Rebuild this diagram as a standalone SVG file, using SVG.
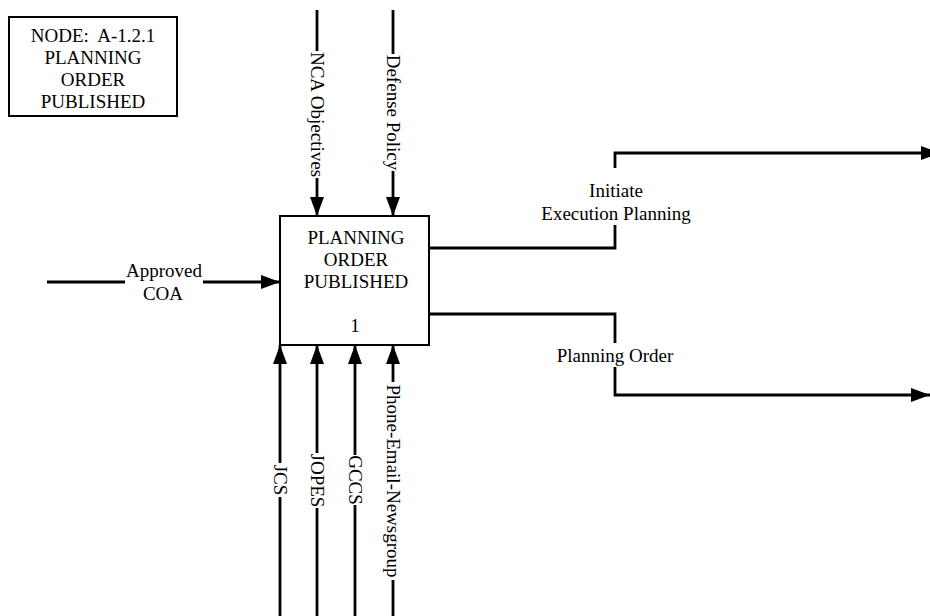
<svg xmlns="http://www.w3.org/2000/svg" width="930" height="616" viewBox="0 0 930 616">
<style>
text{font-family:"Liberation Serif","Times New Roman",serif;font-size:19px;fill:#000;text-anchor:middle;white-space:pre}
.box{fill:#fff;stroke:#000;stroke-width:2}
.c{fill:none;stroke:#000;stroke-width:2.8}
</style>
<defs>
<marker id="ah" markerUnits="userSpaceOnUse" markerWidth="20" markerHeight="14" refX="19" refY="7" orient="auto">
<path d="M0,0 L19,7 L0,14 z" fill="#000"/>
</marker>
</defs>
<rect width="930" height="616" fill="#fff"/>
<g id="node-label">
<rect class="box" x="9" y="17" width="168" height="99" stroke-width="1.5"/>
<text x="93" y="42">NODE:  A-1.2.1</text>
<text x="93" y="64">PLANNING</text>
<text x="93" y="86">ORDER</text>
<text x="93" y="108">PUBLISHED</text>
</g>
<g id="node-1">
<rect class="box" x="280" y="216" width="149" height="129"/>
<text x="356" y="244">PLANNING</text>
<text x="356" y="266">ORDER</text>
<text x="356" y="288">PUBLISHED</text>
<text x="355" y="332">1</text>
</g>
<g id="connectors">
<!-- NCA Objectives -->
<path class="c" d="M317,10 V51"/>
<path class="c" d="M317,178 V216" marker-end="url(#ah)"/>
<text transform="translate(317,114.5) rotate(90)" x="0" y="6">NCA Objectives</text>
<!-- Defense Policy -->
<path class="c" d="M393,10 V54"/>
<path class="c" d="M393,171 V216" marker-end="url(#ah)"/>
<text transform="translate(393,112.5) rotate(90)" x="0" y="6">Defense Policy</text>
<!-- Approved COA -->
<path class="c" d="M47,282 H125"/>
<path class="c" d="M203,282 H280" marker-end="url(#ah)"/>
<text x="164" y="277">Approved</text>
<text x="163" y="300">COA</text>
<!-- JCS -->
<path class="c" d="M280,616 V497"/>
<path class="c" d="M280,463 V345" marker-end="url(#ah)"/>
<text transform="translate(280,480) rotate(90)" x="0" y="6">JCS</text>
<!-- JOPES -->
<path class="c" d="M317,616 V508"/>
<path class="c" d="M317,453 V345" marker-end="url(#ah)"/>
<text transform="translate(317,480.5) rotate(90)" x="0" y="6">JOPES</text>
<!-- GCCS -->
<path class="c" d="M355,616 V505"/>
<path class="c" d="M355,455 V345" marker-end="url(#ah)"/>
<text transform="translate(355,480) rotate(90)" x="0" y="6">GCCS</text>
<!-- Phone-Email-Newsgroup -->
<path class="c" d="M393,616 V580"/>
<path class="c" d="M393,382 V345" marker-end="url(#ah)"/>
<text transform="translate(393,481) rotate(90)" x="0" y="6">Phone-Email-Newsgroup</text>
<!-- Initiate Execution Planning -->
<path class="c" d="M429,248 H615 V225"/>
<path class="c" d="M615,168 V153 H940" marker-end="url(#ah)"/>
<text x="616" y="197">Initiate</text>
<text x="616" y="220">Execution Planning</text>
<!-- Planning Order -->
<path class="c" d="M429,314 H615 V343"/>
<path class="c" d="M615,367 V395 H930" marker-end="url(#ah)"/>
<text x="615" y="362">Planning Order</text>
</g>
</svg>
